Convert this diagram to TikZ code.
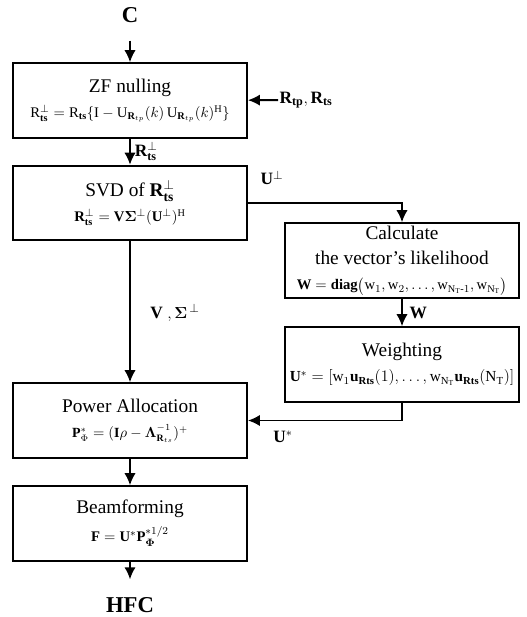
\documentclass[tikz,border=0pt]{standalone}
\usepackage{amssymb}
\usepackage{amsmath}
\usepackage{bm}
\usepackage{fontspec}
\setmainfont{Liberation Serif}
\usepackage{tikz}
\usetikzlibrary{calc,arrows,arrows.meta,positioning}

\begin{document}
\begin{tikzpicture}[x=0.75pt,y=-0.75pt,
	block/.style={draw,line width=1.4pt,minimum width=175.5pt,minimum height=56pt,align=center,inner sep=0pt,font=\fontsize{14.5}{17}\selectfont},
	flow/.style={-{Latex[length=9pt,width=8.5pt]},line width=1.4pt},
	lbl/.style={font=\fontsize{13}{15}\selectfont,inner sep=1pt}]
	\useasboundingbox (0,0) rectangle (526,617);
	
	%in and out
	\node[font=\fontsize{17}{20}\selectfont\bfseries] (C) at (130,15) {C};
	\node[font=\fontsize{17}{20}\selectfont\bfseries] (hfc) at (130,605) {HFC};
	
	%main column
	\node[block] (zf) at (130,100.5) {ZF nulling\\[2pt]
		{\fontsize{11}{12}\selectfont $\mathrm{R}_{\mathbf{ts}}^{\perp} = \mathrm{R}_{\mathbf{ts}}\{\mathrm{I} - \mathrm{U}_{\mathbf{R}_{tp}}(k)\,\mathrm{U}_{\mathbf{R}_{tp}}(k)^{\mathrm{H}}\}$}};
	\node[block] (svd) at (130,203) {SVD of $\mathbf{R}_{\mathbf{ts}}^{\perp}$\\[2pt]
		{\fontsize{11}{12}\selectfont $\mathbf{R}_{\mathbf{ts}}^{\perp} = \mathbf{V}\bm{\Sigma}^{\perp}(\mathbf{U}^{\perp})^{\mathrm{H}}$}};
	\node[block] (pa) at (130,420.5) {Power Allocation\\[2pt]
		{\fontsize{10.5}{12}\selectfont $\mathbf{P}_{\Phi}^{*} = (\mathbf{I}\rho - \bm{\Lambda}_{\mathbf{R}_{ts}}^{-1})^{+}$}};
	\node[block] (bf) at (130,523.5) {Beamforming\\[4pt]
		{\fontsize{11}{12}\selectfont $\mathbf{F} = \mathbf{U}^{*}\mathbf{P}_{\bm{\Phi}}^{*1/2}$}};
	
	%side column
	\node[block,font=\fontsize{14.5}{19}\selectfont] (calc) at (402,260.5) {Calculate\\the vector's likelihood\\
		{\fontsize{11}{12}\selectfont $\mathbf{W} = \mathbf{diag}\big(\mathrm{w}_1,\mathrm{w}_2,\ldots,\mathrm{w}_{\mathrm{N_T}\text{-}1},\mathrm{w}_{\mathrm{N_T}}\big)$}};
	\node[block] (wgt) at (402,364.5) {Weighting\\[2pt]
		{\fontsize{11.5}{12}\selectfont $\mathbf{U}^{*} = [\mathrm{w}_1\mathbf{u}_{\mathbf{Rts}}(1),\ldots,\mathrm{w}_{\mathrm{N_T}}\mathbf{u}_{\mathbf{Rts}}(\mathrm{N_T})]$}};
	
	%input
	\node[lbl,anchor=west] (rin) at (278,100) {$\mathbf{R}_{\mathbf{tp}},\mathbf{R}_{\mathbf{ts}}$};
	
	%connectors
	\draw[flow,shorten <=10pt] (C) -- (zf);
	\draw[flow] (rin) -- (zf);
	\draw[flow] (zf) -- node[lbl,right=2pt] {$\mathbf{R}_{\mathbf{ts}}^{\perp}$} (svd);
	\draw[flow] (svd) -- (pa);
	\draw[flow] (svd.east) -| (calc.north);
	\draw[flow] (calc) -- node[lbl,right=4pt] {$\mathbf{W}$} (wgt);
	\draw[flow] (wgt.south) |- (pa.east);
	\draw[flow] (pa) -- (bf);
	\draw[flow,shorten >=10pt] (bf) -- (hfc);
	
	%labels
	\node[lbl] (uperp) at (272,178) {$\mathbf{U}^{\perp}$};
	\node[lbl] (usta) at (283,437) {$\mathbf{U}^{*}$};
	\node[lbl] (vsig) at (175,313) {$\mathbf{V}\ ,\bm{\Sigma}^{\,\perp}$};
\end{tikzpicture}
\end{document}
